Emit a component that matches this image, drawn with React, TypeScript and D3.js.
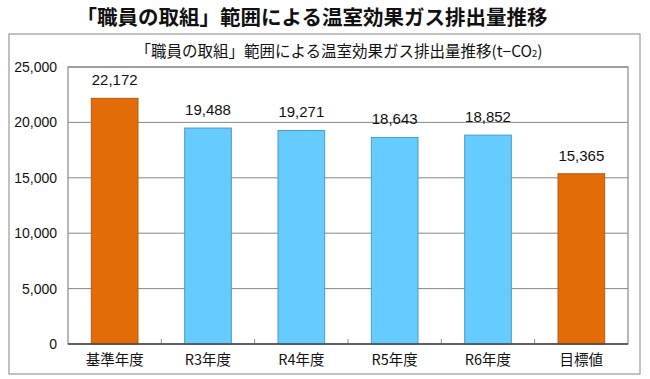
import React from "react";
import * as d3 from "d3";

const categories = ["基準年度", "R3年度", "R4年度", "R5年度", "R6年度", "目標値"];
const values = [22172, 19488, 19271, 18643, 18852, 15365];
const barColors = ["#E36C09", "#66CCFF", "#66CCFF", "#66CCFF", "#66CCFF", "#E36C09"];
const yTicks = [0, 5000, 10000, 15000, 20000, 25000];

const W = 650, H = 379;
const plot = { left: 68, right: 628, top: 67, bottom: 344 };
const font = "'Noto Sans CJK JP', 'Noto Sans', sans-serif";
const numFont = "'Liberation Sans', Arial, sans-serif";

export default function App() {
  const x = d3.scaleBand<string>().domain(categories).range([plot.left, plot.right]).paddingInner(0.5).paddingOuter(0.25);
  const y = d3.scaleLinear().domain([0, 25000]).range([plot.bottom, plot.top]);
  const fmt = d3.format(",");
  const step = x.step();
  return (
    <svg width={W} height={H} style={{ position: "absolute", left: 0, top: 0, background: "#fff" }}>
      <text x={312} y={25} textAnchor="middle" fontFamily={font} fontWeight="bold" fontSize={20.5} fill="#111">「職員の取組」範囲による温室効果ガス排出量推移</text>
      <rect x={9} y={34} width={631} height={340} fill="#fff" stroke="#999" strokeWidth={1.2} />
      <text x={339} y={57} textAnchor="middle" fontFamily={font} fontSize={15.5} fill="#111">「職員の取組」範囲による温室効果ガス排出量推移(t−CO<tspan fontSize={9.5}>2</tspan>)</text>
      {yTicks.map((t) => (
        <g key={t}>
          {t > 0 && <line x1={plot.left} x2={plot.right} y1={y(t)} y2={y(t)} stroke="#888" strokeWidth={1} />}
          <text x={57} y={y(t) + 5} textAnchor="end" fontFamily={numFont} fontSize={14} fill="#111">{fmt(t)}</text>
        </g>
      ))}
      <rect x={plot.left} y={plot.top} width={plot.right - plot.left} height={plot.bottom - plot.top} fill="none" stroke="#888" strokeWidth={1.2} />
      {categories.map((c, i) => (
        <g key={c}>
          <rect x={x(c)} y={y(values[i])} width={x.bandwidth()} height={plot.bottom - y(values[i])} fill={barColors[i]} stroke={i === 0 || i === 5 ? "#B85A10" : "#4A9ACB"} strokeWidth={1} />
          <text x={(x(c) as number) + x.bandwidth() / 2} y={y(values[i]) - 13} textAnchor="middle" fontFamily={numFont} fontSize={15} fill="#111">{fmt(values[i])}</text>
          <text x={(x(c) as number) + x.bandwidth() / 2} y={365} textAnchor="middle" fontFamily={font} fontSize={14.5} fill="#111">{c}</text>
          {i > 0 && <line x1={plot.left + step * i} x2={plot.left + step * i} y1={plot.bottom} y2={plot.bottom - 5} stroke="#888" />}
        </g>
      ))}
      <line x1={plot.left} x2={plot.right} y1={plot.bottom} y2={plot.bottom} stroke="#444" strokeWidth={1.5} />
    </svg>
  );
}
